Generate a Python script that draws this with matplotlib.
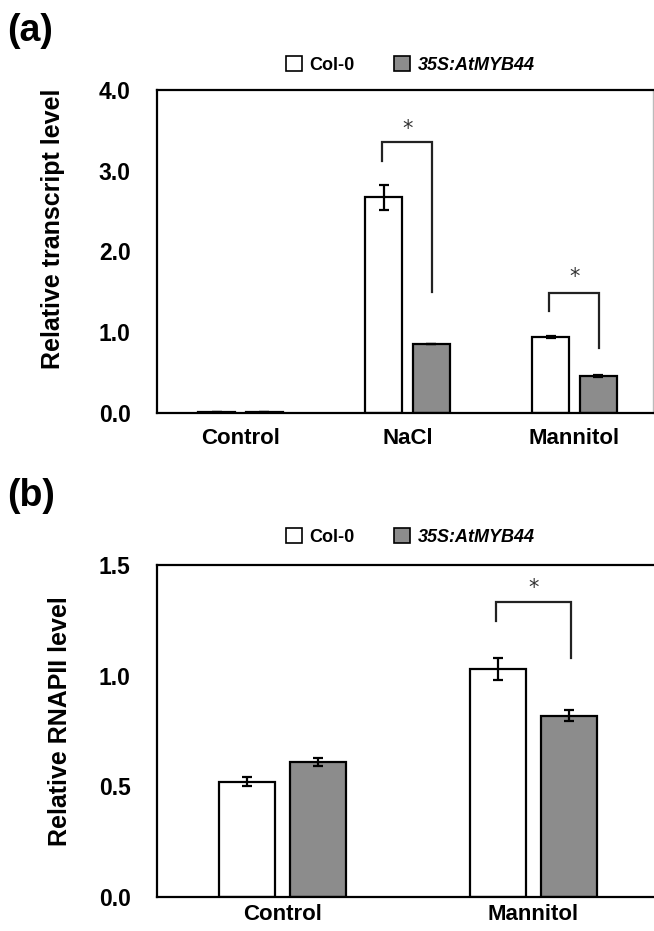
import matplotlib
matplotlib.use("Agg")
import matplotlib.pyplot as plt
from matplotlib.patches import Patch
import numpy as np

plt.rcParams['font.family'] = ['Liberation Sans', 'DejaVu Sans']

# Panel (a) data
cats_a = ["Control", "NaCl", "Mannitol"]
col0_a = [0.01, 2.67, 0.94]
col0_a_err = [0.0, 0.15, 0.012]
myb_a = [0.01, 0.86, 0.46]
myb_a_err = [0.0, 0.0, 0.008]
yticks_a = [0.0, 1.0, 2.0, 3.0, 4.0]

# Panel (b) data
cats_b = ["Control", "Mannitol"]
col0_b = [0.52, 1.03]
col0_b_err = [0.02, 0.048]
myb_b = [0.61, 0.82]
myb_b_err = [0.02, 0.027]
yticks_b = [0.0, 0.5, 1.0, 1.5]

series_names = ["Col-0", "35S:AtMYB44"]

W, H = 654, 931
fig = plt.figure(figsize=(W / 100, H / 100), dpi=100)

bw = 0.222
off = 0.142
gray = '#8c8c8c'


def px_ax(left, top, right, bottom):
    return fig.add_axes([left / W, 1 - bottom / H, (right - left) / W, (bottom - top) / H])


def style(ax, cats, yticks, ylim, xlim, xpad):
    ax.set_ylim(*ylim)
    ax.set_xlim(*xlim)
    ax.set_yticks(yticks)
    ax.set_yticklabels([f"{t:.1f}" for t in yticks], fontsize=16.5, fontweight='bold')
    ax.set_xticks(range(len(cats)))
    ax.set_xticklabels(cats, fontsize=16, fontweight='bold')
    ax.tick_params(axis='y', length=0, pad=19)
    ax.tick_params(axis='x', length=0, pad=xpad)
    for s in ['left', 'top', 'bottom', 'right']:
        ax.spines[s].set_linewidth(1.6)
        ax.spines[s].set_color('black')


def bars(ax, c0, c0e, m, me):
    x = np.arange(len(c0))
    ax.bar(x - off, c0, bw, color='white', edgecolor='black', linewidth=1.6, zorder=2)
    ax.bar(x + off, m, bw, color=gray, edgecolor='black', linewidth=1.6, zorder=2)
    ax.errorbar(x - off, c0, yerr=c0e, fmt='none', ecolor='black', elinewidth=1.6,
                capsize=3.5, capthick=1.6, zorder=3)
    ax.errorbar(x + off, m, yerr=me, fmt='none', ecolor='black', elinewidth=1.6,
                capsize=3.5, capthick=1.6, zorder=3)


def bracket(ax, xc, ytop, yl, yr, ystar):
    xl, xr = xc - 0.15, xc + 0.148
    ax.plot([xl, xl, xr, xr], [yl, ytop, ytop, yr], color='#222222', lw=1.6,
            solid_joinstyle='miter', zorder=4)
    ax.text((xl + xr) / 2, ystar, '*', ha='center', va='center', fontsize=15,
            color='#333333', family='DejaVu Sans')


def legend(ax, y):
    handles = [Patch(facecolor='white', edgecolor='black', linewidth=1.2),
               Patch(facecolor=gray, edgecolor='black', linewidth=1.2)]
    leg = fig.legend(handles, series_names, loc='center', bbox_to_anchor=(410 / W, 1 - y / H),
                     ncol=2, frameon=False, handlelength=0.9, handleheight=0.9,
                     handletextpad=0.4, columnspacing=2.2, borderaxespad=0,
                     prop={'size': 13, 'weight': 'bold'})
    leg.get_texts()[1].set_fontstyle('italic')


# Panel (a)
ax1 = px_ax(157, 90, 653, 413)
style(ax1, cats_a, yticks_a, (0, 4.0), (-0.5, -0.5 + 496 / 167), 11)
ax1.spines['right'].set_color('#bbbbbb')
ax1.spines['right'].set_linewidth(1.0)
bars(ax1, col0_a, col0_a_err, myb_a, myb_a_err)
bracket(ax1, 1, 3.35, 3.12, 1.50, 3.52)
bracket(ax1, 2, 1.49, 1.26, 0.81, 1.68)
ax1.set_ylabel("Relative transcript level", fontsize=18, fontweight='bold')
ax1.yaxis.set_label_coords(-0.185, 0.57)
legend(ax1, 65)
fig.text(7 / W, 1 - 31 / H, "(a)", fontsize=27, fontweight='bold', va='center', ha='left')

# Panel (b)
ax2 = px_ax(157, 565, 655, 897)
style(ax2, cats_b, yticks_b, (0, 1.5), (-0.5, -0.5 + 498 / 251), 5)
ax2.spines['right'].set_visible(False)
bars(ax2, col0_b, col0_b_err, myb_b, myb_b_err)
bracket(ax2, 1, 1.333, 1.247, 1.08, 1.395)
ax2.set_ylabel("Relative RNAPII level", fontsize=18, fontweight='bold')
ax2.yaxis.set_label_coords(-0.17, 0.53)
legend(ax2, 537)
fig.text(7 / W, 1 - 496 / H, "(b)", fontsize=27, fontweight='bold', va='center', ha='left')

fig.savefig("out.png", dpi=100)
